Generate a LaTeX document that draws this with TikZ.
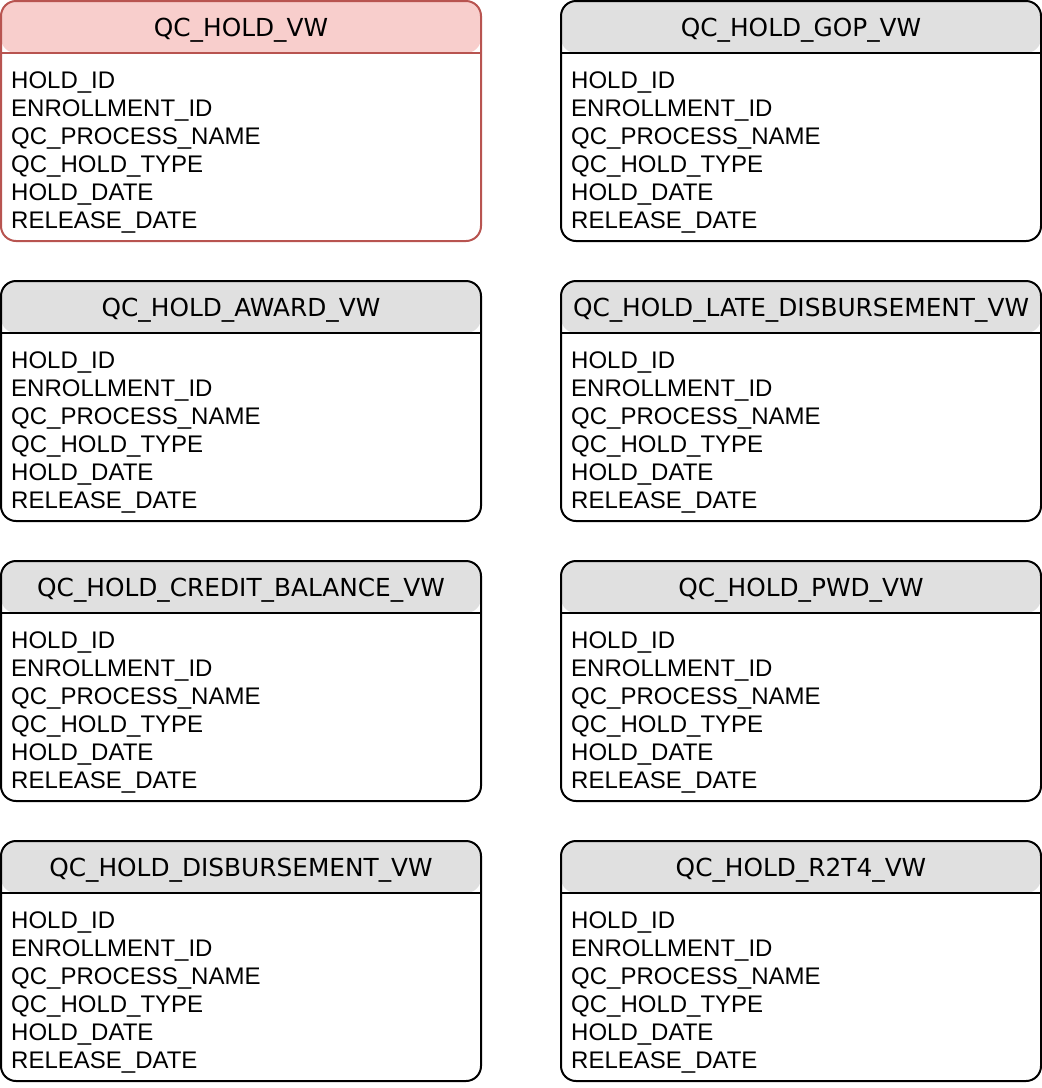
\documentclass[tikz,border=0pt]{standalone}
\usepackage{fontspec}
\setmainfont{Liberation Sans}
\newfontfamily\headfont{DejaVu Sans}
\usetikzlibrary{positioning}
\definecolor{headgray}{HTML}{E0E0E0}
\definecolor{holdpink}{HTML}{F8CECC}
\definecolor{holdred}{HTML}{B85450}

\begin{document}
\begin{tikzpicture}[
    x=1pt, y=-1pt,
    tbl/.style 2 args={draw=#2, line width=2pt, rounded corners=15pt,
                       fill=white, minimum width=480pt, minimum height=240pt,
                       inner sep=0pt, outer sep=0pt,
      path picture={
        \fill[#1] (path picture bounding box.north west) rectangle
          ([yshift=-52pt]path picture bounding box.north east);
        \draw[#2, line width=2pt]
          ([yshift=-52pt]path picture bounding box.north west) --
          ([yshift=-52pt]path picture bounding box.north east);
      }},
    title/.style={anchor=base, inner sep=0pt,
                  font=\headfont\fontsize{24.8}{28}\selectfont},
    % base of a multi-line node is its last line
    fields/.style={anchor=base west, inner sep=0pt, align=left,
                   font=\fontsize{24}{28}\selectfont}
  ]
  \useasboundingbox (0,0) rectangle (1042,1088);

  % Row 1
  \node[tbl={holdpink}{holdred}] (hold) at (241, 121) {};
  \node[title] (hold-title) at ([yshift=-35pt]hold.north) {QC\_HOLD\_VW};
  \node[fields] (hold-fields) at ([xshift=10pt, yshift=-227pt]hold.north west)
    {HOLD\_ID\\ENROLLMENT\_ID\\QC\_PROCESS\_NAME\\QC\_HOLD\_TYPE\\HOLD\_DATE\\RELEASE\_DATE};

  \node[tbl={headgray}{black}] (gop) at (801, 121) {};
  \node[title] (gop-title) at ([yshift=-35pt]gop.north) {QC\_HOLD\_GOP\_VW};
  \node[fields] (gop-fields) at ([xshift=10pt, yshift=-227pt]gop.north west)
    {HOLD\_ID\\ENROLLMENT\_ID\\QC\_PROCESS\_NAME\\QC\_HOLD\_TYPE\\HOLD\_DATE\\RELEASE\_DATE};

  % Row 2
  \node[tbl={headgray}{black}] (award) at (241, 401) {};
  \node[title] (award-title) at ([yshift=-35pt]award.north) {QC\_HOLD\_AWARD\_VW};
  \node[fields] (award-fields) at ([xshift=10pt, yshift=-227pt]award.north west)
    {HOLD\_ID\\ENROLLMENT\_ID\\QC\_PROCESS\_NAME\\QC\_HOLD\_TYPE\\HOLD\_DATE\\RELEASE\_DATE};

  \node[tbl={headgray}{black}] (late) at (801, 401) {};
  \node[title] (late-title) at ([yshift=-35pt]late.north) {QC\_HOLD\_LATE\_DISBURSEMENT\_VW};
  \node[fields] (late-fields) at ([xshift=10pt, yshift=-227pt]late.north west)
    {HOLD\_ID\\ENROLLMENT\_ID\\QC\_PROCESS\_NAME\\QC\_HOLD\_TYPE\\HOLD\_DATE\\RELEASE\_DATE};

  % Row 3
  \node[tbl={headgray}{black}] (credit) at (241, 681) {};
  \node[title] (credit-title) at ([yshift=-35pt]credit.north) {QC\_HOLD\_CREDIT\_BALANCE\_VW};
  \node[fields] (credit-fields) at ([xshift=10pt, yshift=-227pt]credit.north west)
    {HOLD\_ID\\ENROLLMENT\_ID\\QC\_PROCESS\_NAME\\QC\_HOLD\_TYPE\\HOLD\_DATE\\RELEASE\_DATE};

  \node[tbl={headgray}{black}] (pwd) at (801, 681) {};
  \node[title] (pwd-title) at ([yshift=-35pt]pwd.north) {QC\_HOLD\_PWD\_VW};
  \node[fields] (pwd-fields) at ([xshift=10pt, yshift=-227pt]pwd.north west)
    {HOLD\_ID\\ENROLLMENT\_ID\\QC\_PROCESS\_NAME\\QC\_HOLD\_TYPE\\HOLD\_DATE\\RELEASE\_DATE};

  % Row 4
  \node[tbl={headgray}{black}] (disb) at (241, 961) {};
  \node[title] (disb-title) at ([yshift=-35pt]disb.north) {QC\_HOLD\_DISBURSEMENT\_VW};
  \node[fields] (disb-fields) at ([xshift=10pt, yshift=-227pt]disb.north west)
    {HOLD\_ID\\ENROLLMENT\_ID\\QC\_PROCESS\_NAME\\QC\_HOLD\_TYPE\\HOLD\_DATE\\RELEASE\_DATE};

  \node[tbl={headgray}{black}] (r2t4) at (801, 961) {};
  \node[title] (r2t4-title) at ([yshift=-35pt]r2t4.north) {QC\_HOLD\_R2T4\_VW};
  \node[fields] (r2t4-fields) at ([xshift=10pt, yshift=-227pt]r2t4.north west)
    {HOLD\_ID\\ENROLLMENT\_ID\\QC\_PROCESS\_NAME\\QC\_HOLD\_TYPE\\HOLD\_DATE\\RELEASE\_DATE};
\end{tikzpicture}
\end{document}
